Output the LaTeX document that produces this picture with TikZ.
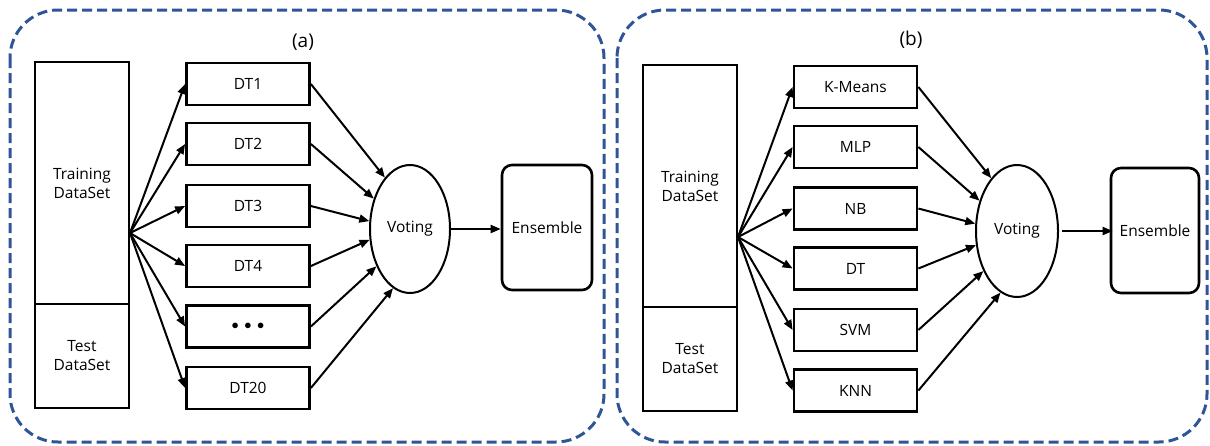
\documentclass[tikz,border=0pt]{standalone}
\usepackage{fontspec}
\setmainfont{Open Sans}
\usepackage{xcolor}
\usepackage{tikz}
\usetikzlibrary{arrows.meta,positioning,calc,shapes.geometric}
\definecolor{panelblue}{RGB}{47,85,151}

\begin{document}
\begin{tikzpicture}[x=1pt, y=-1pt, >={Triangle[length=10pt,width=8pt]},
    font=\fontsize{15.5}{19}\selectfont,
    panel/.style={draw=panelblue, line width=3pt, dash pattern=on 10pt off 5pt, rounded corners=48pt},
    databox/.style={draw, line width=2.8pt, rectangle, minimum width=94pt, align=center, inner sep=0pt},
    clfbox/.style={draw, line width=2.8pt, rectangle, minimum width=123pt, minimum height=42pt, inner sep=0pt},
    votenode/.style={draw, line width=2pt, ellipse, inner sep=0pt},
    ensbox/.style={draw, line width=2.6pt, rectangle, rounded corners=10pt, inner sep=0pt},
    link/.style={->, line width=2pt}]

    \useasboundingbox (0,0) rectangle (1210,445);

    % === (a) Bagging of decision trees ===
    \draw[panel] (10,10) rectangle (604,442);
    \node (labA) at (303,42) {\fontsize{19}{22}\selectfont (a)};

    \node[databox, minimum height=242pt] (trainA) at (82,183) {Training\\DataSet};
    \node[databox, minimum height=104pt] (testA) at (82,356) {Test\\DataSet};
    \coordinate (fanA) at (130,233);

    \node[clfbox] (dt1) at (248,84) {DT1};
    \node[clfbox] (dt2) at (248,144) {DT2};
    \node[clfbox] (dt3) at (248,206) {DT3};
    \node[clfbox] (dt4) at (248,266) {DT4};
    \node[clfbox] (dtdots) at (248,326.5) {\fontsize{15}{15}\selectfont\raisebox{-3pt}{$\bullet\mkern3mu\bullet\mkern3mu\bullet$}};
    \node[clfbox] (dt20) at (248,388) {DT20};

    \node[votenode, minimum width=80pt, minimum height=128pt] (voteA) at (410,229) {Voting};
    \node[ensbox, minimum width=90pt, minimum height=125pt] (ensA) at (547,227.5) {Ensemble};

    \draw[link] (fanA) -- (dt1.west);
    \draw[link] (fanA) -- (dt2.west);
    \draw[link] (fanA) -- (dt3.west);
    \draw[link] (fanA) -- (dt4.west);
    \draw[link] (fanA) -- (dtdots.west);
    \draw[link] (fanA) -- (dt20.west);

    \draw[link] (dt1.east) -- (voteA.116);
    \draw[link] (dt2.east) -- (voteA.140);
    \draw[link] (dt3.east) -- (voteA.169);
    \draw[link] (dt4.east) -- (voteA.195);
    \draw[link] (dtdots.east) -- (voteA.228);
    \draw[link] (dt20.east) -- (voteA.254);

    \draw[link] (voteA.east) -- (voteA.east -| ensA.west);

    % === (b) Heterogeneous classifiers ===
    \draw[panel] (617,10) rectangle (1207,442);
    \node (labB) at (911,40) {\fontsize{19}{22}\selectfont (b)};

    \node[databox, minimum height=242pt] (trainB) at (690,186) {Training\\DataSet};
    \node[databox, minimum height=104pt] (testB) at (690,359) {Test\\DataSet};
    \coordinate (fanB) at (738,237);

    \node[clfbox] (kmeans) at (855.5,87) {K-Means};
    \node[clfbox] (mlp) at (855.5,147) {MLP};
    \node[clfbox] (nb) at (855.5,208.5) {NB};
    \node[clfbox] (dt) at (855.5,268.5) {DT};
    \node[clfbox] (svm) at (855.5,330) {SVM};
    \node[clfbox] (knn) at (855.5,390.5) {KNN};

    \node[votenode, minimum width=82pt, minimum height=132pt] (voteB) at (1017,231) {Voting};
    \node[ensbox, minimum width=88pt, minimum height=125pt] (ensB) at (1155,230.5) {Ensemble};

    \draw[link] (fanB) -- (kmeans.west);
    \draw[link] (fanB) -- (mlp.west);
    \draw[link] (fanB) -- (nb.west);
    \draw[link] (fanB) -- (dt.west);
    \draw[link] (fanB) -- (svm.west);
    \draw[link] (fanB) -- (knn.west);

    \draw[link] (kmeans.east) -- (voteB.116);
    \draw[link] (mlp.east) -- (voteB.141);
    \draw[link] (nb.east) -- (voteB.170);
    \draw[link] (dt.east) -- (voteB.199);
    \draw[link] (svm.east) -- (voteB.230);
    \draw[link] (knn.east) -- (voteB.255);

    \draw[link] ([xshift=3pt]voteB.east) -- ([xshift=3pt]voteB.east -| ensB.west);

\end{tikzpicture}
\end{document}
